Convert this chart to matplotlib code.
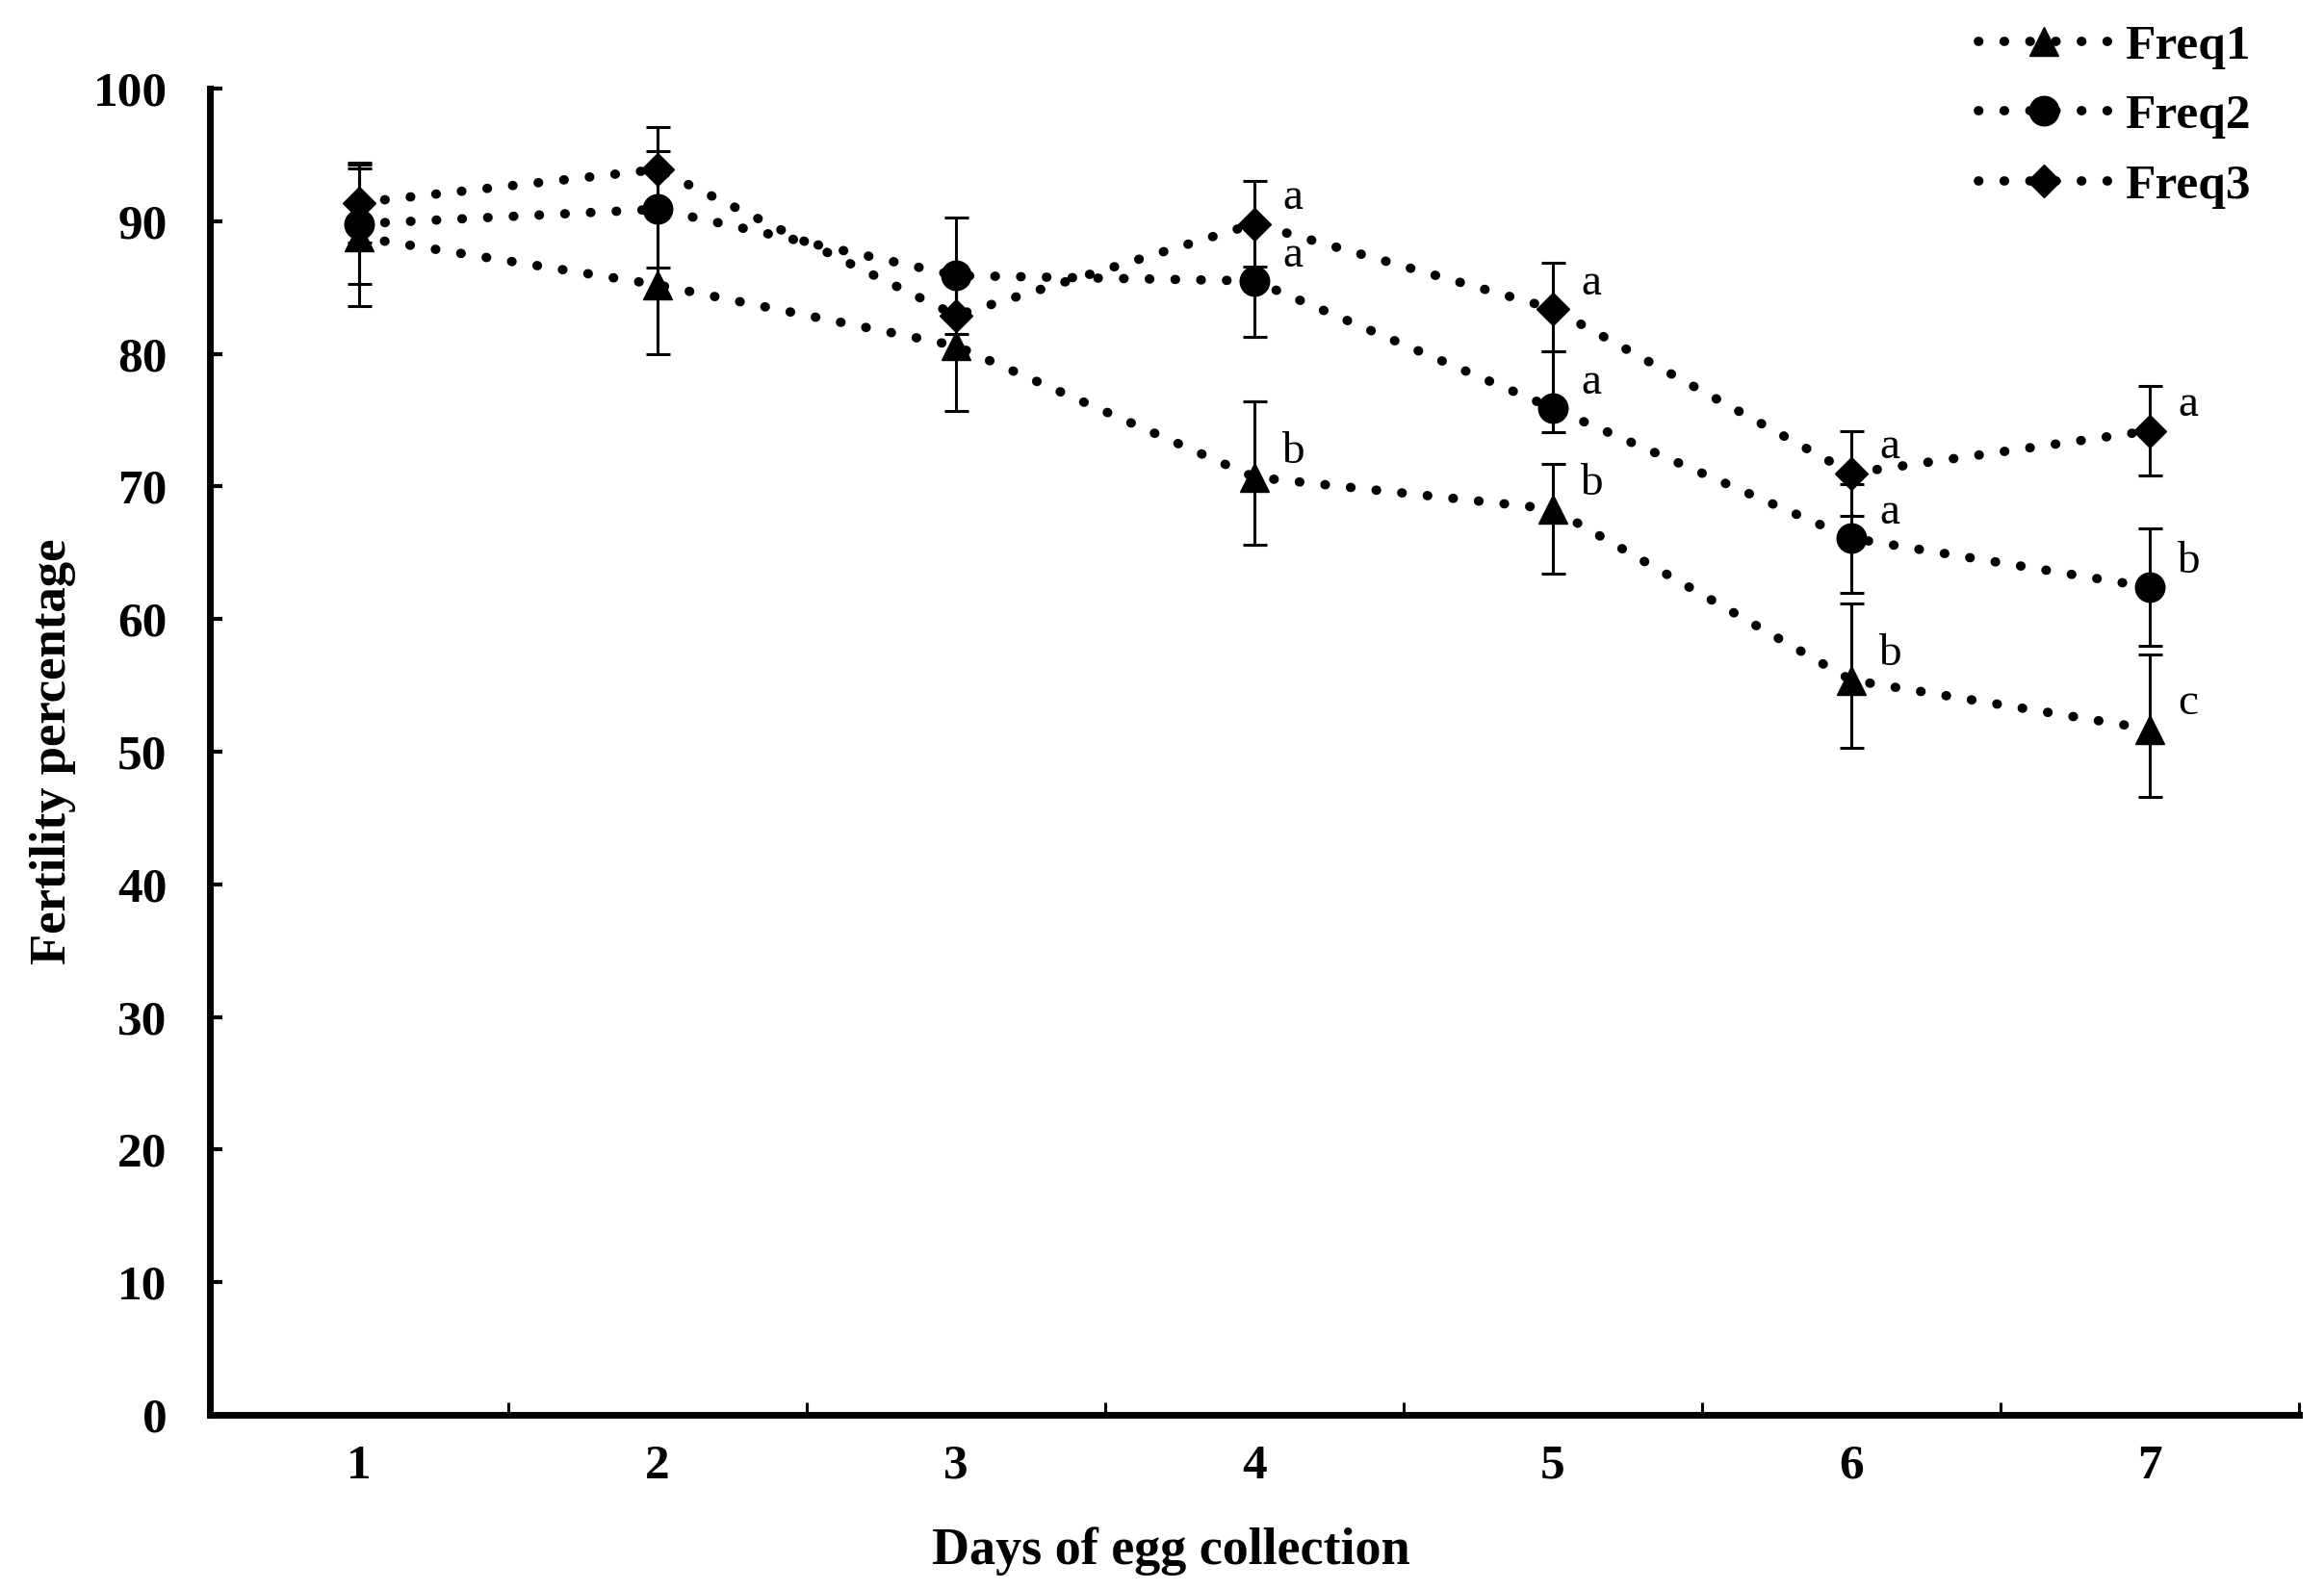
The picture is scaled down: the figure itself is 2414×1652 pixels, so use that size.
import matplotlib
matplotlib.use('Agg')
import matplotlib.pyplot as plt
import numpy as np

plt.rcParams['font.family'] = ['Liberation Serif', 'DejaVu Serif']
plt.rcParams['font.weight'] = 'bold'

days = [1, 2, 3, 4, 5, 6, 7]
day_labels = ['1', '2', '3', '4', '5', '6', '7']

# mean fertility (%) per collection day
freq1 = [88.8, 85.2, 80.6, 70.7, 68.3, 55.4, 51.7]
freq2 = [89.8, 90.9, 85.9, 85.5, 75.9, 66.1, 62.4]
freq3 = [91.4, 93.9, 82.9, 89.8, 83.4, 71.0, 74.2]

# error bars (lower, upper)
freq1_lo = [5.2, 5.2, 4.9, 5.1, 4.9, 5.1, 5.1]
freq1_hi = [5.2, 5.2, 4.9, 5.7, 3.4, 5.8, 5.6]
freq2_lo = [4.5, 4.4, 4.4, 4.2, 1.8, 4.1, 4.4]
freq2_hi = [4.5, 4.4, 4.4, 4.2, 4.3, 4.1, 4.4]
freq3_lo = [3.0, 3.2, 3.0, 3.2, 3.2, 3.2, 3.4]
freq3_hi = [3.0, 3.2, 3.0, 3.2, 3.5, 3.2, 3.4]

# significance letters
freq1_sig = ['', '', '', 'b', 'b', 'b', 'c']
freq2_sig = ['', '', '', 'a', 'a', 'a', 'b']
freq3_sig = ['', '', '', 'a', 'a', 'a', 'a']

fig = plt.figure(figsize=(24.14, 16.52), dpi=100)
ax = fig.add_axes([0.0903, 0.1102, 0.8989, 0.8341])

series = [
    ('Freq1', freq1, freq1_lo, freq1_hi, freq1_sig, '^', 22),
    ('Freq2', freq2, freq2_lo, freq2_hi, freq2_sig, 'o', 22),
    ('Freq3', freq3, freq3_lo, freq3_hi, freq3_sig, 'D', 17),
]

for name, vals, lo, hi, sig, mk, ms in series:
    ax.errorbar(days, vals, yerr=[lo, hi], fmt='none', ecolor='black',
                elinewidth=2.2, capsize=9, capthick=2.2, zorder=2)
    ax.plot(days, vals, color='black', lw=7, linestyle=(0, (0.05, 2.7)),
            dash_capstyle='round', marker=mk, ms=ms, mfc='black',
            mec='black', zorder=3, label=name)
    for x, y, t in zip(days, vals, sig):
        if t:
            ax.annotate(t, (x, y), xytext=(29, 19), textcoords='offset points',
                        ha='center', va='center', fontsize=34,
                        fontweight='normal')

ax.set_xlim(0.5, 7.5)
ax.set_ylim(0, 100)
ax.set_xticks(np.arange(0.5, 8, 1))
ax.set_xticklabels([])
ax.set_xticks(days, minor=True)
ax.set_xticklabels(day_labels, minor=True)
ax.set_yticks(range(0, 101, 10))
ax.tick_params(axis='x', which='major', direction='in', length=9.5, width=2.2)
ax.tick_params(axis='x', which='minor', length=0, pad=22, labelsize=37)
ax.tick_params(axis='y', direction='in', length=9.5, width=3, pad=32, labelsize=37)

for s in ['top', 'right']:
    ax.spines[s].set_visible(False)
for s in ['left', 'bottom']:
    ax.spines[s].set_linewidth(5)

ax.set_xlabel('Days of egg collection', fontsize=39, fontweight='bold', va='center')
ax.xaxis.set_label_coords(0.460, -0.103)
ax.set_ylabel('Fertility percentage', fontsize=38, fontweight='bold', va='center')
ax.yaxis.set_label_coords(-0.075, 0.5)

fig.legend(loc='upper right', bbox_to_anchor=(0.9685, 0.985), frameon=False,
           fontsize=37, handlelength=2.67, handletextpad=0.3,
           labelspacing=0.5, borderpad=0, borderaxespad=0)

fig.savefig('out.png', dpi=100)
